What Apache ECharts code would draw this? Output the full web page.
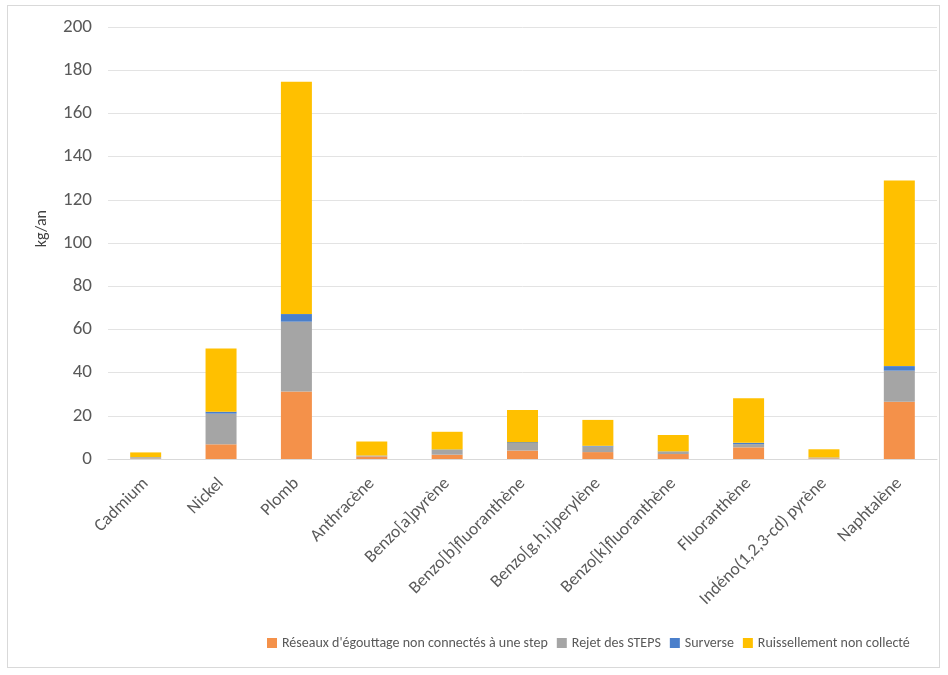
<!DOCTYPE html>
<html>
<head>
<meta charset="utf-8">
<script src="https://cdn.jsdelivr.net/npm/echarts@6/dist/echarts.min.js"></script>
<style>
html,body{margin:0;padding:0;background:#fff;}
#frame{position:absolute;left:7px;top:5px;width:933px;height:663px;border:1px solid #d9d9d9;box-sizing:border-box;}
#chart{position:absolute;left:0;top:0;width:948px;height:675px;}
</style>
</head>
<body>
<div id="frame"></div>
<div id="chart"></div>
<script>
const categories = ["Cadmium","Nickel","Plomb","Anthracène","Benzo[a]pyrène","Benzo[b]fluoranthène","Benzo[g,h,i]perylène","Benzo[k]fluoranthène","Fluoranthène","Indéno(1,2,3-cd) pyrène","Naphtalène"];
const reseaux   = [0.2, 6.8, 31.2, 1.2, 2.0, 3.9, 3.2, 2.3, 5.4, 0.3, 26.5];
const rejet     = [0.6, 14.2, 32.4, 0.3, 2.2, 3.5, 2.6, 1.0, 1.5, 0.3, 14.4];
const surverse  = [0.05, 0.9, 3.5, 0.1, 0.2, 0.4, 0.3, 0.2, 0.6, 0.1, 2.1];
const ruissel   = [2.2, 29.2, 107.6, 6.5, 8.2, 14.9, 12.0, 7.6, 20.6, 3.8, 85.9];
const seriesNames = ["Réseaux d'égouttage non connectés à une step","Rejet des STEPS","Surverse","Ruissellement non collecté"];
const yTicks = {min:0, max:200, interval:20};
const yName = "kg/an";

const colors = ["#F4914A","#A5A5A5","#4A7FCB","#FFC000"];
const dataSets = [reseaux, rejet, surverse, ruissel];
const FONT = "Carlito, 'Liberation Sans Narrow', 'Open Sans', sans-serif";
const chart = echarts.init(document.getElementById('chart'));
chart.setOption({
  animation:false,
  textStyle:{fontFamily:FONT},
  grid:{left:108, right:11, top:27, bottom:216},
  legend:{
    bottom:20, left:262, right:0, icon:'rect', itemWidth:10, itemHeight:10, itemGap:9,
    textStyle:{color:'#595959', fontSize:14, fontFamily:FONT},
    data:seriesNames
  },
  graphic:[{
    type:'text', left:34, top:210, rotation:Math.PI/2,
    style:{text:yName, fill:'#404040', font:"16px " + FONT}
  }],
  xAxis:{
    type:'category', data:categories,
    axisLine:{lineStyle:{color:'#d9d9d9'}}, axisTick:{show:false},
    axisLabel:{rotate:45, color:'#595959', fontSize:17.5, interval:0, margin:22, fontFamily:FONT}
  },
  yAxis:{
    type:'value', min:yTicks.min, max:yTicks.max, interval:yTicks.interval,
    axisLine:{show:false}, axisTick:{show:false},
    axisLabel:{color:'#595959', fontSize:19, margin:16, fontFamily:FONT},
    splitLine:{lineStyle:{color:'#e3e3e3'}}
  },
  series: seriesNames.map((n,i)=>({
    name:n, type:'bar', stack:'total', data:dataSets[i], barWidth:31,
    itemStyle:{color:colors[i]}
  }))
});
</script>
</body>
</html>
